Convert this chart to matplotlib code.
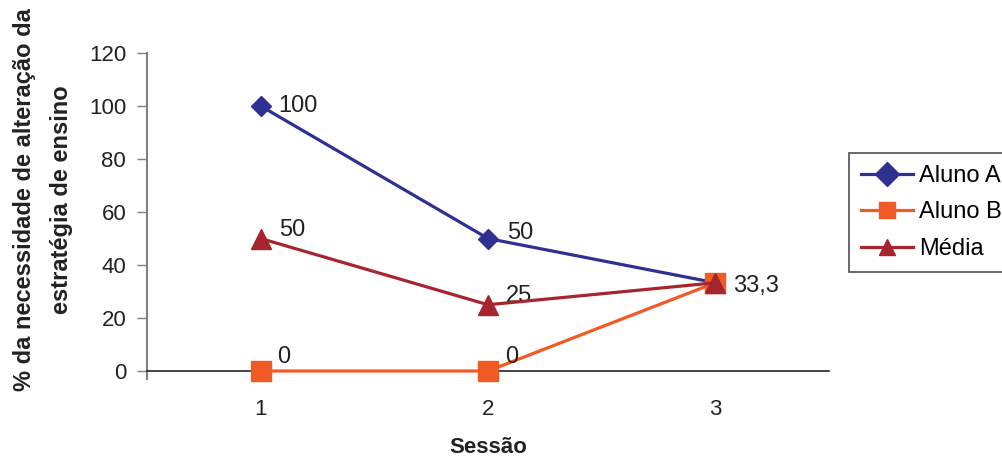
import matplotlib.pyplot as plt

plt.rcParams['font.family'] = ['Liberation Sans', 'DejaVu Sans']

sessoes = [1, 2, 3]
aluno_a = [100, 50, 33.3]
aluno_b = [0, 0, 33.3]
media = [50, 25, 33.3]
yticks = [0, 20, 40, 60, 80, 100, 120]

def fmt(v):
    return ('%g' % v).replace('.', ',')

fig = plt.figure(figsize=(10.03, 4.61), dpi=100)
ax = fig.add_axes([147/1003, 90/461, 682/1003, 318/461])

ax.plot(sessoes, aluno_a, color='#2E3192', lw=2.3, marker='D', ms=10, label='Aluno A', zorder=3)
ax.plot(sessoes, aluno_b, color='#F15A24', lw=2.3, marker='s', ms=14, label='Aluno B', zorder=3)
ax.plot(sessoes, media, color='#A6252E', lw=2.3, marker='^', ms=14, label='Média', zorder=4)

# rótulos de dados
lab = dict(textcoords='offset points', va='center', fontsize=17, color='#222222')
ax.annotate(fmt(aluno_a[0]), (sessoes[0], aluno_a[0]), xytext=(13, 0), **lab)
ax.annotate(fmt(aluno_a[1]), (sessoes[1], aluno_a[1]), xytext=(14, 4), **lab)
for x, v in zip(sessoes[:2], media[:2]):
    ax.annotate(fmt(v), (x, v), xytext=(13, 6), **lab)
for x, v in zip(sessoes[:2], aluno_b[:2]):
    ax.annotate(fmt(v), (x, v), xytext=(12, 10), **lab)
ax.annotate(fmt(aluno_b[2]), (sessoes[2], aluno_b[2]), xytext=(13, -2), **lab)

ax.set_xlim(0.5, 3.5)
ax.set_ylim(0, 120)
ax.set_yticks(yticks)
ax.set_xticks(sessoes)
ax.tick_params(axis='both', labelsize=16, colors='#222222')
ax.tick_params(axis='x', length=0, pad=20)
ax.tick_params(axis='y', length=7, width=1, color='#808080', pad=8)

for s in ['top', 'right']:
    ax.spines[s].set_visible(False)
ax.spines['left'].set_color('#808080')
ax.spines['left'].set_linewidth(1.5)
ax.spines['left'].set_bounds(-3, 120)
ax.spines['bottom'].set_color('#222222')
ax.spines['bottom'].set_linewidth(1.2)
for line in ax.lines:
    line.set_clip_on(False)

fig.text(488/1003, 1 - 447/461, 'Sessão', ha='center', va='center',
         fontsize=16, fontweight='bold', color='#222222')
fig.text(43/1003, 1 - 200/461, '% da necessidade de alteração da\nestratégia de ensino',
         ha='center', va='center', rotation=90, fontsize=17, fontweight='bold',
         linespacing=1.75, multialignment='center', color='#222222')

leg = fig.legend(loc='upper left', bbox_to_anchor=(849/1003, 1 - 153/461),
                 fontsize=17, frameon=True, fancybox=False, edgecolor='#222222',
                 handlelength=2.2, borderpad=0.5, labelspacing=0.62, handletextpad=0.25,
                 borderaxespad=0)
leg.get_frame().set_linewidth(1.2)
for h in leg.legend_handles:
    h.set_markersize(12)

fig.savefig('out.png', dpi=100)
